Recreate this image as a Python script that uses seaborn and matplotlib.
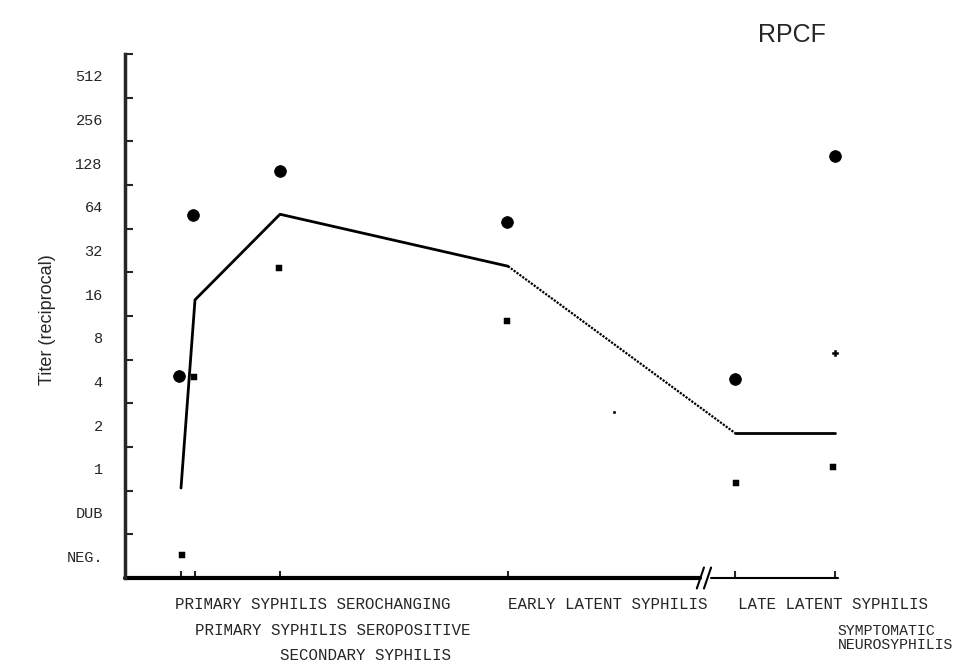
import numpy as np
import pandas as pd
import matplotlib.pyplot as plt
import seaborn as sns

# stages along the x axis (position in axis units)
stages = ['PRIMARY SYPHILIS SEROCHANGING', 'PRIMARY SYPHILIS SEROPOSITIVE', 'SECONDARY SYPHILIS',
          'EARLY LATENT SYPHILIS', 'LATE LATENT SYPHILIS', 'SYMPTOMATIC\nNEUROSYPHILIS']
stage_pos = [56, 70, 155, 383, 610, 710]

# titer scale (index 0 = NEG.)
titer_levels = ['NEG.', 'DUB', '1', '2', '4', '8', '16', '32', '64', '128', '256', '512']

# line through the stages
mean_titer = [1.56, 5.87, 7.83, 6.64, 2.82, 2.82]

# individual points
circle_x = [54, 68, 155, 382, 610, 710]
circle_y = [4.13, 7.81, 8.82, 7.65, 4.06, 9.16]
square_x = [57, 69, 154, 382, 611, 708]
square_y = [0.03, 4.10, 6.60, 5.39, 1.68, 2.04]
plus_x = [710]
plus_y = [4.65]
speck_x = [489]
speck_y = [3.30]

sns.set_style('ticks')
plt.rcParams['font.family'] = ['Liberation Mono', 'DejaVu Sans']

fig = plt.figure(figsize=(9.59, 6.62), dpi=100)
ax = fig.add_axes([125 / 959, 84 / 662, 713 / 959, 524 / 662])

# line: solid, dotted, solid
sns.lineplot(x=stage_pos[:4], y=mean_titer[:4], sort=False, color='black', lw=2, ax=ax)
sns.lineplot(x=stage_pos[3:5], y=mean_titer[3:5], sort=False, color='black', lw=1.6,
             linestyle=(0, (1, 0.6)), ax=ax)
sns.lineplot(x=stage_pos[4:], y=mean_titer[4:], sort=False, color='black', lw=2, ax=ax)

sns.scatterplot(x=circle_x, y=circle_y, marker='o', s=70, color='black', edgecolor='black',
                ax=ax, zorder=5, clip_on=False)
sns.scatterplot(x=square_x, y=square_y, marker='s', s=18, color='black', edgecolor='black',
                ax=ax, zorder=5, clip_on=False)
sns.scatterplot(x=plus_x, y=plus_y, marker='P', s=22, color='black', edgecolor='black',
                ax=ax, zorder=5, clip_on=False)
sns.scatterplot(x=speck_x, y=speck_y, marker='o', s=4, color='black', edgecolor='black',
                ax=ax, zorder=5)

ax.set_xlim(0, 713)
ax.set_ylim(-0.5, 11.5)

# y axis: ticks at the band edges, labels in the middle of each band
ax.set_yticks(np.arange(-0.5, 12, 1))
ax.set_yticklabels([])
ax.set_yticks(np.arange(len(titer_levels)), minor=True)
ax.set_yticklabels(titer_levels, minor=True, fontsize=11)
ax.tick_params(axis='y', which='major', direction='in', length=6, width=1.5)
ax.tick_params(axis='y', which='minor', length=0, pad=16)

ax.set_xticks(stage_pos)
ax.set_xticklabels([])
ax.tick_params(axis='x', direction='in', length=5, width=1.5)

for s in ['top', 'right', 'bottom']:
    ax.spines[s].set_visible(False)
ax.spines['left'].set_linewidth(2.5)

# bottom axis with a break
ax.plot([0, 0.806], [0, 0], transform=ax.transAxes, color='black', lw=3, clip_on=False)
ax.plot([0.822, 1.0], [0, 0], transform=ax.transAxes, color='black', lw=1.5, clip_on=False)
for dx in [0.802, 0.812]:
    ax.plot([dx, dx + 0.01], [-0.02, 0.02], transform=ax.transAxes, color='black', lw=1.5, clip_on=False)

# stage labels under the axis, starting at each stage position (offsets in points)
label_dx = [-4, 0, 0, 0, 2, 2]
label_dy = [19, 37.5, 55.5, 19, 19, 43]
label_fs = [11.4, 11.4, 11.4, 11.4, 11.4, 10.7]
for name, pos, dx, dy, fs in zip(stages, stage_pos, label_dx, label_dy, label_fs):
    ax.annotate(name, xy=(pos, 0), xycoords=('data', 'axes fraction'),
                xytext=(dx, -dy), textcoords='offset points',
                ha='left', va='center', fontsize=fs, linespacing=1.0)

fig.text(792 / 959, 1 - 35 / 662, 'RPCF', ha='center', va='center', fontsize=18, family='Liberation Sans')
fig.text(48 / 959, 1 - 320 / 662, 'Titer (reciprocal)', ha='center', va='center', rotation=90,
         fontsize=13, family='Liberation Sans')

fig.savefig('out.png', dpi=100)
